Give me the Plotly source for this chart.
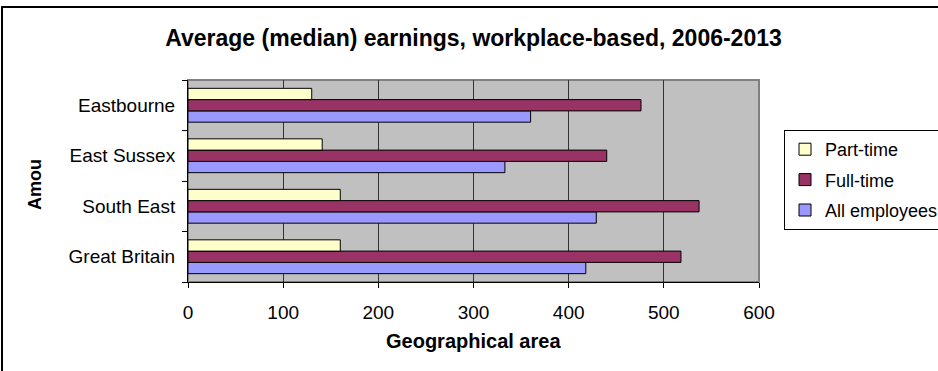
import plotly.graph_objects as go

# Weekly earnings (median), by area
areas = ["Great Britain", "South East", "East Sussex", "Eastbourne"]
all_employees = [418, 429, 333, 360]
full_time = [518, 537, 440, 476]
part_time = [160, 160, 141, 130]
x_ticks = [0, 100, 200, 300, 400, 500, 600]

W, H = 938, 371
L, R, T, B = 188, 179, 80, 89
FONT = "Liberation Sans, Arial, sans-serif"

fig = go.Figure()
series = [
    ("All employees", all_employees, "#9999FF", 3),
    ("Full-time", full_time, "#993366", 2),
    ("Part-time", part_time, "#FFFFCC", 1),
]
for name, vals, color, rank in series:
    fig.add_trace(go.Bar(
        y=areas, x=vals, name=name, orientation="h",
        marker=dict(color=color, line=dict(color="#000000", width=1)),
        legendgroup=name, legendrank=rank,
    ))

pw = W - L - R
ph = H - T - B

def px_x(p):
    return (p - L) / pw

def px_y(p):
    return (H - B - p) / ph

fig.update_layout(
    width=W, height=H,
    margin=dict(l=L, r=R, t=T, b=B, autoexpand=False),
    paper_bgcolor="#FFFFFF",
    plot_bgcolor="#C0C0C0",
    barmode="group",
    bargap=0.33,
    bargroupgap=0,
    font=dict(family=FONT, size=19, color="#000000"),
    title=dict(
        text="<b>Average (median) earnings, workplace-based, 2006-2013</b>",
        x=0.5, xref="paper", xanchor="center",
        y=1 - 38 / H, yref="container", yanchor="middle",
        font=dict(family=FONT, size=23, color="#000000"),
    ),
    xaxis=dict(
        range=[0, 600], tickvals=x_ticks, ticktext=[str(v) for v in x_ticks],
        showgrid=True, gridcolor="#333333", gridwidth=1,
        zeroline=False, showline=True, linecolor="#000000", linewidth=1,
        ticks="outside", ticklen=5, tickcolor="#000000",
        tickfont=dict(family=FONT, size=19),
        ticklabelstandoff=8,
        fixedrange=True,
    ),
    yaxis=dict(
        categoryorder="array", categoryarray=areas,
        showline=True, linecolor="#000000", linewidth=1,
        ticks="outside", ticklen=5, tickcolor="#000000", tickson="boundaries",
        showgrid=False, zeroline=False,
        tickfont=dict(family=FONT, size=19),
        ticklabelstandoff=8,
        fixedrange=True,
    ),
    legend=dict(
        x=px_x(784), y=px_y(130), xanchor="left", yanchor="top",
        traceorder="grouped", tracegroupgap=4, itemwidth=30,
        bgcolor="#FFFFFF", bordercolor="#000000", borderwidth=1,
        font=dict(family=FONT, size=18),
    ),
    showlegend=True,
    annotations=[
        dict(text="<b>Geographical area</b>", xref="paper", yref="paper",
             x=0.5, y=px_y(341), xanchor="center", yanchor="middle",
             showarrow=False, font=dict(family=FONT, size=20)),
        dict(text="<b>Amou</b>", xref="paper", yref="paper",
             x=px_x(35), y=px_y(185), xanchor="center", yanchor="middle",
             textangle=-90, showarrow=False, font=dict(family=FONT, size=18)),
    ],
    shapes=[
        # plot-area frame
        dict(type="rect", xref="paper", yref="paper", x0=0, x1=1, y0=0, y1=1,
             line=dict(color="#808080", width=2), layer="below"),
        # outer chart border
        dict(type="rect", xref="paper", yref="paper",
             x0=px_x(2), x1=px_x(W + 20), y0=px_y(H + 20), y1=px_y(7),
             line=dict(color="#000000", width=2)),
    ],
)

fig.write_html("out.html")
